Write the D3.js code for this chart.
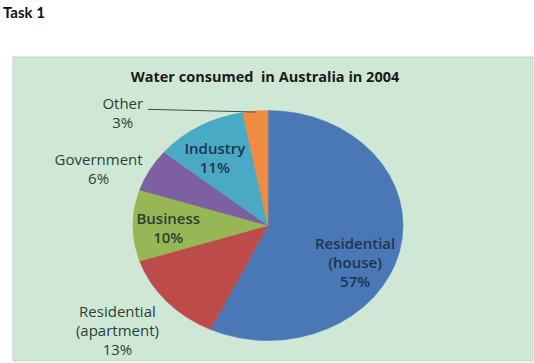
<!DOCTYPE html>
<html>
<head>
<meta charset="utf-8">
<script src="https://cdn.jsdelivr.net/npm/d3@7"></script>
<style>
  html, body { margin: 0; padding: 0; background: #fff; }
  svg { display: block; }
  text { font-family: "Open Sans", Lato, sans-serif; }
</style>
</head>
<body>
<div id="chart"></div>
<script>
// chart data
var categories = ['Residential (house)', 'Residential (apartment)', 'Business', 'Government', 'Industry', 'Other'];
var shares = [57, 13, 10, 6, 11, 3];
var labelLines = [['Residential', '(house)'], ['Residential', '(apartment)'], ['Business'], ['Government'], ['Industry'], ['Other']];
var colors = ['#4a78b6', '#bd4b49', '#97b656', '#7e60a2', '#4aa9c4', '#ef8c42'];

var width = 534, height = 363;
var cx = 268, cy = 225.5;
var ry = 115, rx = 135; // pie is stretched sideways in the original

// label placement: angle shift (deg) from slice middle and radius (before x stretch)
var labelShift = [14, 2, -2, -7.4, -3.4, -42.4];
var labelRadius = [83, 166, 85, 155, 81, 167];

var svg = d3.select('#chart').append('svg')
  .attr('width', width)
  .attr('height', height);

svg.append('text')
  .attr('x', 3).attr('y', 18)
  .style('font-family', 'Lato, sans-serif')
  .style('font-size', '15px').style('font-weight', 'bold')
  .attr('fill', '#111')
  .text('Task 1');

svg.append('rect')
  .attr('x', 13).attr('y', 57)
  .attr('width', 520).attr('height', 304)
  .attr('fill', '#cfe8d6')
  .attr('stroke', '#bcd6c4').attr('stroke-width', 1);

svg.append('text')
  .attr('x', 265).attr('y', 82)
  .attr('text-anchor', 'middle')
  .style('font-size', '14.5px').style('font-weight', 'bold')
  .style('white-space', 'pre')
  .attr('fill', '#1a1a1a')
  .text('Water consumed  in Australia in 2004');

var pie = d3.pie().sort(null).value(function (d) { return d; });
var arcs = pie(shares);
var arc = d3.arc().innerRadius(0).outerRadius(ry);

var g = svg.append('g')
  .attr('transform', 'translate(' + cx + ',' + cy + ') scale(' + (rx / ry) + ',1)');

g.selectAll('path.slice')
  .data(arcs)
  .enter().append('path')
  .attr('class', 'slice')
  .attr('d', arc)
  .attr('fill', function (d, i) { return colors[i]; })
  .attr('stroke', function (d, i) { return colors[i]; })
  .attr('stroke-width', 0.5);

// label anchor in screen coords
function labelPoint(d, i) {
  var a = (d.startAngle + d.endAngle) / 2 + labelShift[i] * Math.PI / 180;
  var p = d3.arc().innerRadius(labelRadius[i]).outerRadius(labelRadius[i])
    .startAngle(a).endAngle(a).centroid();
  return [cx + p[0] * rx / ry, cy + p[1]];
}

var lineGap = 19;
var labels = svg.selectAll('g.label')
  .data(arcs)
  .enter().append('g')
  .attr('class', 'label')
  .attr('transform', function (d, i) {
    var p = labelPoint(d, i);
    return 'translate(' + p[0] + ',' + p[1] + ')';
  });

labels.each(function (d, i) {
  var lines = labelLines[i].concat([shares[i] + '%']);
  var t = d3.select(this).append('text')
    .attr('text-anchor', 'middle')
    .style('font-size', '15px')
    .style('font-weight', (i === 0 || i === 2 || i === 4) ? '600' : 'normal')
    .attr('fill', (i === 0 || i === 4) ? '#1b3550' : '#2a3f33');
  var top = -(lines.length - 1) * lineGap / 2;
  lines.forEach(function (s, k) {
    t.append('tspan')
      .attr('x', 0)
      .attr('y', top + k * lineGap)
      .attr('dy', '0.35em')
      .text(s);
  });
});

// leader line for the small "Other" slice
var other = arcs[5];
var otherLabel = labelPoint(other, 5);
var edge = d3.arc().innerRadius(ry).outerRadius(ry).centroid(other);
svg.append('line')
  .attr('x1', otherLabel[0] + 25).attr('y1', otherLabel[1] - 4)
  .attr('x2', cx + edge[0] * rx / ry).attr('y2', cy + edge[1] + 1)
  .attr('stroke', '#3d4a40').attr('stroke-width', 1);
</script>
</body>
</html>
